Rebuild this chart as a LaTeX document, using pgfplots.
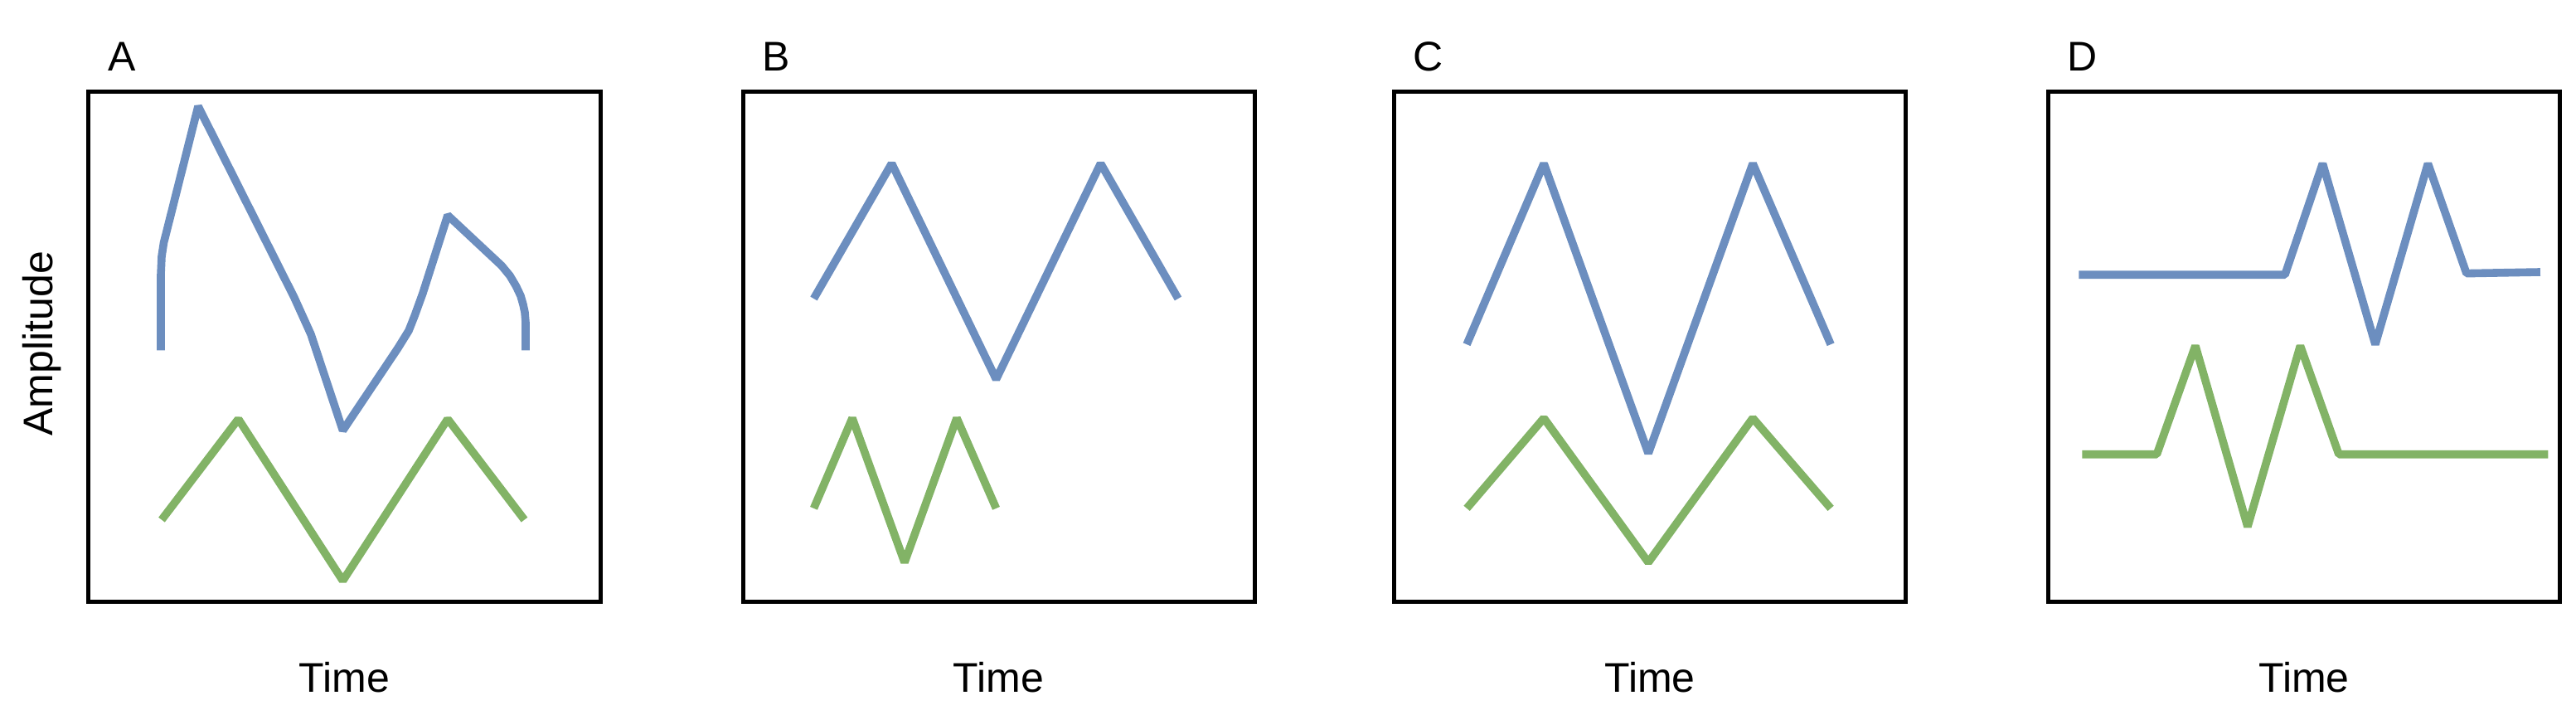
\documentclass[border=0pt]{standalone}
\usepackage{fontspec}
\setmainfont{Liberation Sans}
\usepackage{pgfplots}
\pgfplotsset{compat=1.18}
\definecolor{cblue}{HTML}{6C8EBF}
\definecolor{cgreen}{HTML}{82B366}
\pgfplotsset{
  every axis title shift=0pt,
  panel/.style={
    scale only axis, width=154.25pt, height=153.75pt,
    xmin=0, xmax=617, ymin=0, ymax=557,
    xtick=\empty, ytick=\empty,
    axis line style={line width=1.25pt, black},
    clip=false,
    anchor=south west,
    xlabel={Time},
    xlabel style={at={(axis description cs:0.5,0)}, anchor=base, yshift=-27.2pt, font=\fontsize{12.5}{15}\selectfont},
    title style={at={(axis description cs:0,1)}, anchor=base west, xshift=2.3pt, yshift=6.2pt, font=\fontsize{12.5}{15}\selectfont},
  },
  bl/.style={color=cblue, line width=2.4pt, line join=bevel},
  gr/.style={color=cgreen, line width=2.4pt, line join=bevel},
}
\begin{document}
\begin{tikzpicture}
\useasboundingbox (0,0) rectangle (776.75pt,215.5pt);
% Panel A
\begin{axis}[panel, at={(26.75pt,34.125pt)}, title={A},
  ylabel={Amplitude},
  ylabel style={at={(axis description cs:-0.0713,0.506)}, anchor=base, font=\fontsize{12.5}{15}\selectfont}]
\addplot[bl] coordinates {(87,274.5) (87,357) (88,377) (90.5,392) (94,404.5) (132,541) (248,332) (256,316) (262,304) (268,292) (306.5,187) (373,277) (386,296) (393,312) (403,337) (433,422) (498,367) (508,356) (515.5,344.5) (521,334) (524,324.5) (526,316) (527,305) (527,274.5)};
\addplot[gr] coordinates {(88,89.5) (180.5,199.5) (306.5,23) (433,199.5) (525.5,89.5)};
\end{axis}
% Panel B
\begin{axis}[panel, at={(224pt,34.125pt)}, title={B}]
\addplot[bl] coordinates {(85.5,331) (179.5,478.5) (305.5,243) (431.5,478.5) (525,331)};
\addplot[gr] coordinates {(85.5,102) (132,200.5) (195,43) (258,200.5) (305.5,102)};
\end{axis}
% Panel C
\begin{axis}[panel, at={(420.4pt,34.125pt)}, title={C}]
\addplot[bl] coordinates {(87.5,281) (180.5,478.5) (306.5,162) (432.5,478.5) (526.5,281)};
\addplot[gr] coordinates {(87.5,102) (180.5,200.5) (306.5,43) (432.5,200.5) (526.5,102)};
\end{axis}
% Panel D
\begin{axis}[panel, at={(617.6pt,34.125pt)}, title={D}]
\addplot[bl] coordinates {(37,357) (285.5,357) (331,478.5) (394.5,281) (458,478.5) (504.5,358.5) (593.5,360)};
\addplot[gr] coordinates {(41,161) (131,161) (177.5,279.5) (240.5,82) (304,279.5) (350.5,161) (603,161)};
\end{axis}
\end{tikzpicture}
\end{document}
